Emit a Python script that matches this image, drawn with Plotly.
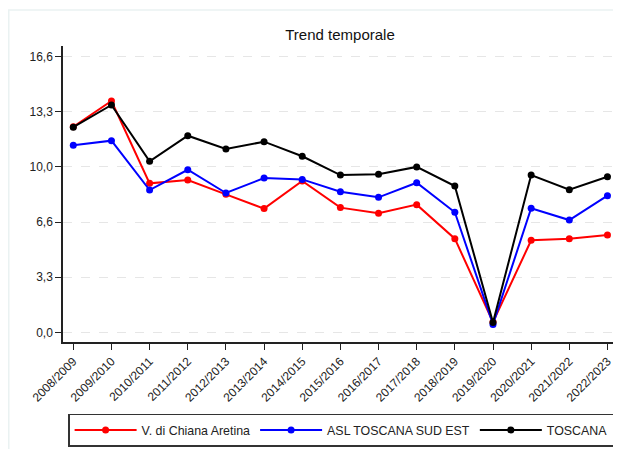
import plotly.graph_objects as go

years = ["2008/2009", "2009/2010", "2010/2011", "2011/2012", "2012/2013", "2013/2014",
         "2014/2015", "2015/2016", "2016/2017", "2017/2018", "2018/2019", "2019/2020",
         "2020/2021", "2021/2022", "2022/2023"]
chiana = [12.38, 13.93, 8.97, 9.17, 8.31, 7.45, 9.11, 7.51, 7.17, 7.69, 5.64, 0.62, 5.54, 5.64, 5.86]
asl = [11.26, 11.54, 8.57, 9.79, 8.39, 9.29, 9.21, 8.47, 8.13, 9.01, 7.23, 0.48, 7.47, 6.76, 8.23]
toscana = [12.35, 13.69, 10.30, 11.84, 11.04, 11.48, 10.60, 9.47, 9.52, 9.96, 8.81, 0.60, 9.47, 8.59, 9.37]
ytick_vals = [0, 3.32, 6.64, 9.96, 13.28, 16.6]
ytick_text = ["0,0", "3,3", "6,6", "10,0", "13,3", "16,6"]

series = [("V. di Chiana Aretina", chiana, "#ff0000"),
          ("ASL TOSCANA SUD EST", asl, "#0000ff"),
          ("TOSCANA", toscana, "#000000")]

fig = go.Figure()
for name, vals, col in series:
    fig.add_trace(go.Scatter(x=years, y=vals, name=name, mode="lines+markers",
                             line=dict(color=col, width=2),
                             marker=dict(color=col, size=7)))

FONT = "Liberation Sans, Arial, sans-serif"
W, H = 613, 441
fig.update_layout(
    width=W, height=H,
    margin=dict(l=55, r=4, t=38, b=107, autoexpand=False),
    paper_bgcolor="white", plot_bgcolor="white",
    font=dict(family=FONT, size=12, color="#222"),
    title=dict(text="Trend temporale", x=0.5, xref="paper", y=1 - 27 / H,
               yanchor="middle", xanchor="center",
               font=dict(family=FONT, size=15, color="#111")),
    xaxis=dict(type="category", range=[-0.27, 14.25], showgrid=False, automargin=False,
               showline=True, linecolor="#222", linewidth=1.5,
               ticks="outside", ticklen=6, tickcolor="#222", tickangle=-45,
               tickfont=dict(size=12, color="#222")),
    yaxis=dict(range=[-0.58, 17.24], tickvals=ytick_vals, ticktext=ytick_text, automargin=False,
               showgrid=True, gridcolor="#e6e6e6", griddash="dash", gridwidth=1,
               zeroline=False, showline=True, linecolor="#222", linewidth=1.5,
               ticks="outside", ticklen=6, tickcolor="#222",
               tickfont=dict(size=12, color="#222")),
    legend=dict(orientation="h", x=0.502, xanchor="center", y=-0.243, yanchor="top",
                bordercolor="#333", borderwidth=1.5, bgcolor="white",
                font=dict(size=12.4, color="#222"), itemwidth=62),
    showlegend=True,
)
x_left = (0.75 - 55) / 554
y_top = (334 - 2) / 296
fig.add_shape(type="path", xref="paper", yref="paper",
              path=f"M {x_left},-0.6 L {x_left},{y_top} L 1.2,{y_top}",
              line=dict(color="#eaf2f2", width=1.5), layer="below")

fig.write_html("out.html")
